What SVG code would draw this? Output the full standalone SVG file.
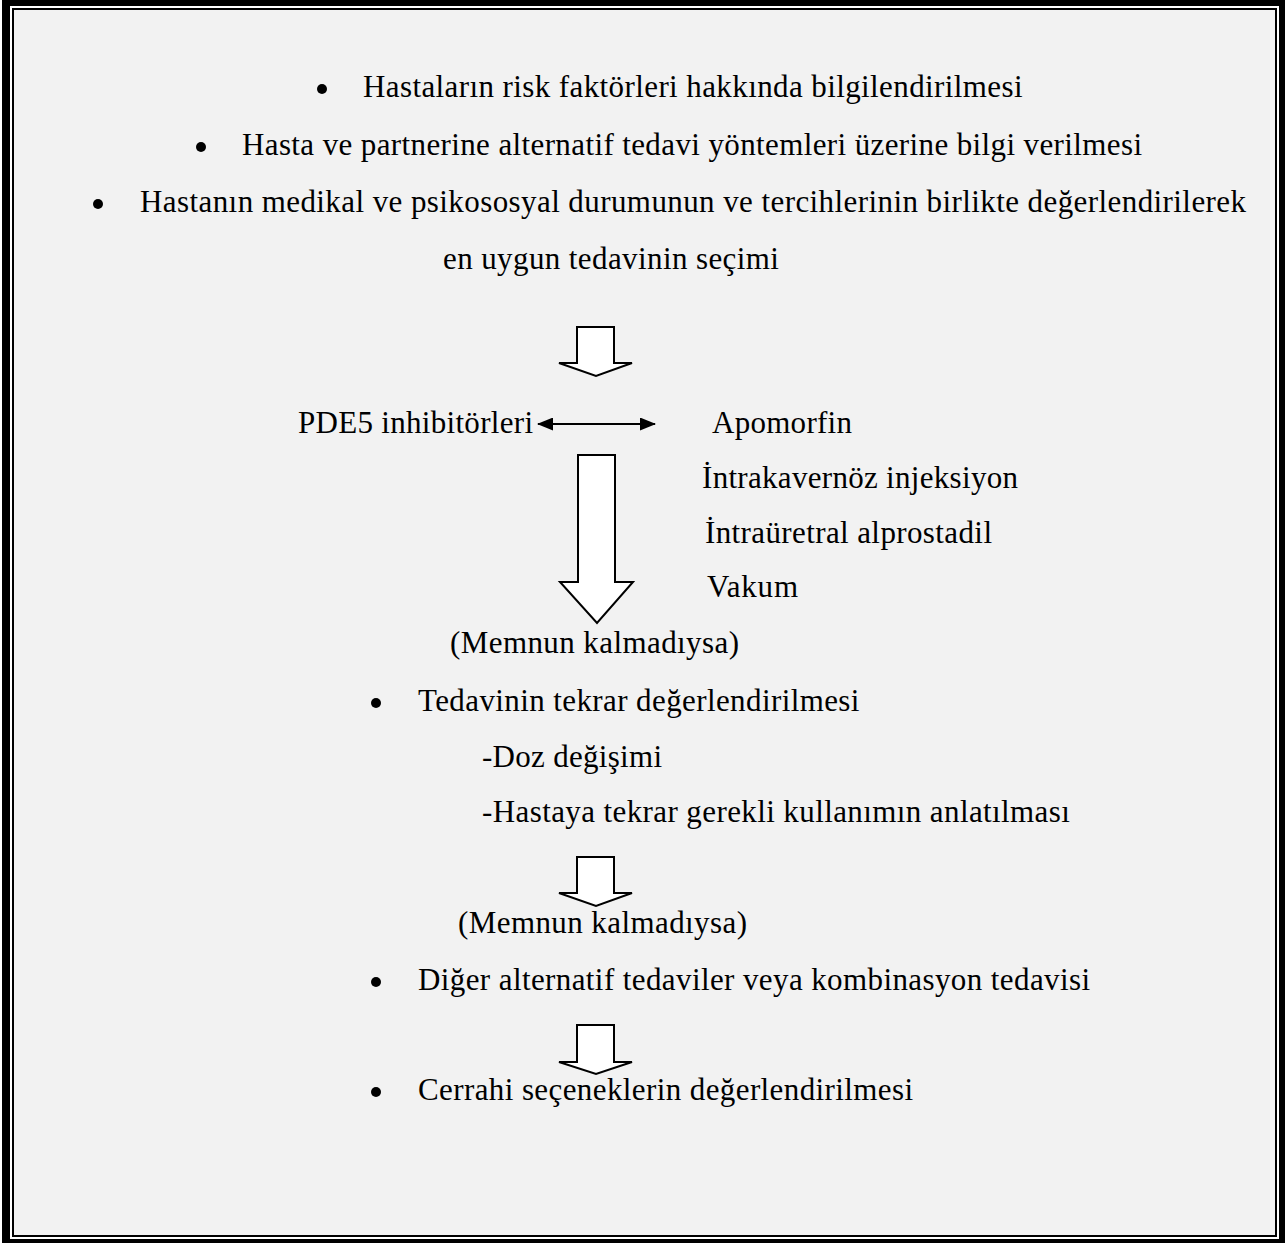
<svg xmlns="http://www.w3.org/2000/svg" width="1285" height="1243" viewBox="0 0 1285 1243">
  <style>
    text { font-family: "Liberation Serif", "Times New Roman", serif; font-size: 31px; letter-spacing: 0.4px; fill: #000; }
    .fit { letter-spacing: 0; }
    .blk { fill: #fff; stroke: #000; stroke-width: 2; stroke-linejoin: miter; }
    .bul { fill: #000; }
    .line { stroke: #000; stroke-width: 2; fill: none; }
  </style>
  <defs>
    <marker id="ah" viewBox="0 0 16 13" refX="15" refY="6.5" markerWidth="16" markerHeight="13" markerUnits="userSpaceOnUse" orient="auto-start-reverse">
      <path d="M0,0 L16,6.5 L0,13 Z" fill="#000"/>
    </marker>
  </defs>
  <g id="frame">
    <rect x="0" y="0" width="1285" height="1243" fill="#fff"/>
    <path d="M2,0 H1285 V1243 H2 Z M10,6 V1239 H1279 V6 Z" fill="#000" fill-rule="evenodd"/>
    <rect x="13" y="9" width="1263" height="1227" fill="#f2f2f2" stroke="#000" stroke-width="2"/>
  </g>

  <g id="n-intro">
    <circle class="bul" cx="322" cy="89" r="5"/>
    <text x="363" y="97">Hastaların risk faktörleri hakkında bilgilendirilmesi</text>
    <circle class="bul" cx="201" cy="147" r="5"/>
    <text class="fit" x="242" y="155" textLength="900">Hasta ve partnerine alternatif tedavi yöntemleri üzerine bilgi verilmesi</text>
    <circle class="bul" cx="98" cy="204" r="5"/>
    <text class="fit" x="140" y="212" textLength="1106">Hastanın medikal ve psikososyal durumunun ve tercihlerinin birlikte değerlendirilerek</text>
    <text x="443" y="269">en uygun tedavinin seçimi</text>
  </g>

  <g id="n-pde5">
    <text class="fit" x="298" y="433" textLength="235">PDE5 inhibitörleri</text>
  </g>

  <g id="n-alternatives">
    <text class="fit" x="712" y="433" textLength="140">Apomorfin</text>
    <text class="fit" x="702" y="488" textLength="316">İntrakavernöz injeksiyon</text>
    <text class="fit" x="705" y="543" textLength="287">İntraüretral alprostadil</text>
    <text class="fit" x="707" y="597" textLength="91">Vakum</text>
  </g>

  <g id="n-memnun1">
    <text class="fit" x="450" y="653" textLength="289">(Memnun kalmadıysa)</text>
  </g>

  <g id="n-reeval">
    <circle class="bul" cx="376" cy="703" r="5"/>
    <text x="418" y="711">Tedavinin tekrar değerlendirilmesi</text>
    <text class="fit" x="482" y="767" textLength="180">-Doz değişimi</text>
    <text x="482" y="822">-Hastaya tekrar gerekli kullanımın anlatılması</text>
  </g>

  <g id="n-memnun2">
    <text class="fit" x="458" y="933" textLength="289">(Memnun kalmadıysa)</text>
  </g>

  <g id="n-other">
    <circle class="bul" cx="376" cy="982" r="5"/>
    <text x="418" y="990">Diğer alternatif tedaviler veya kombinasyon tedavisi</text>
  </g>

  <g id="n-surgery">
    <circle class="bul" cx="376" cy="1092" r="5"/>
    <text x="418" y="1100">Cerrahi seçeneklerin değerlendirilmesi</text>
  </g>

  <g id="connectors">
    <path class="blk" d="M577,327 H614 V363 H632 L596,376 L559,363 H577 Z"/>
    <line class="line" x1="538" y1="424" x2="655" y2="424" marker-start="url(#ah)" marker-end="url(#ah)"/>
    <path class="blk" d="M578,455 H615 V582 H633 L597,623 L560,582 H578 Z"/>
    <path class="blk" d="M577,857 H614 V893 H632 L596,906 L559,893 H577 Z"/>
    <path class="blk" d="M577,1025 H614 V1062 H632 L596,1074 L559,1062 H577 Z"/>
  </g>
</svg>
